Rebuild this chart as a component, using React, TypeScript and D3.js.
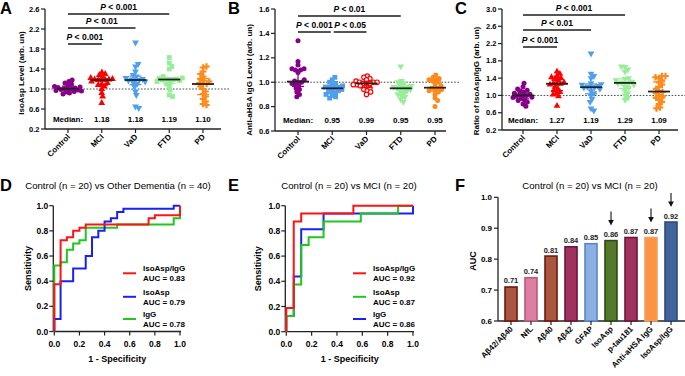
import React from "react";
import * as d3 from "d3";

const FONT = "'Liberation Sans', Arial, Helvetica, sans-serif";

// ---------- Data ----------
const categories = ["Control", "MCI", "VaD", "FTD", "PD"];

// Panel A: IsoAsp level
const aControl = [1.18, 1.15, 1.12, 1.1, 1.08, 1.05, 1.04, 1.03, 1.02, 1.01, 1.0, 1.0, 0.99, 0.98, 0.97, 0.96, 0.95, 0.94, 0.92, 0.9];
const aMCI = [1.33, 1.3, 1.28, 1.25, 1.22, 1.2, 1.19, 1.19, 1.18, 1.18, 1.18, 1.15, 1.12, 1.1, 1.08, 1.05, 1.0, 0.92, 0.85, 0.72];
const aVaD = [1.93, 1.5, 1.45, 1.35, 1.28, 1.25, 1.22, 1.2, 1.19, 1.18, 1.18, 1.17, 1.15, 1.12, 1.1, 1.05, 0.95, 0.88, 0.65, 0.62];
const aFTD = [1.63, 1.52, 1.45, 1.4, 1.25, 1.22, 1.21, 1.2, 1.2, 1.19, 1.19, 1.18, 1.17, 1.15, 1.12, 1.1, 1.05, 0.98, 0.88, 0.85];
const aPD = [1.45, 1.43, 1.35, 1.3, 1.25, 1.2, 1.17, 1.15, 1.12, 1.1, 1.1, 1.05, 1.0, 0.95, 0.9, 0.85, 0.8, 0.75, 0.7, 0.68];
const aMedianLabels = ["1.18", "1.18", "1.19", "1.10"];
const aTicks = [0.2, 0.6, 1.0, 1.4, 1.8, 2.2, 2.6];

// Panel B: Anti-aHSA IgG level
const bControl = [1.34, 1.17, 1.14, 1.11, 1.11, 1.1, 1.1, 1.08, 1.02, 1.01, 1.0, 1.0, 0.99, 0.98, 0.97, 0.95, 0.94, 0.92, 0.9, 0.88];
const bMCI = [1.04, 1.02, 1.0, 0.99, 0.98, 0.97, 0.96, 0.96, 0.95, 0.95, 0.95, 0.94, 0.93, 0.92, 0.92, 0.91, 0.9, 0.89, 0.88, 0.87];
const bVaD = [1.05, 1.04, 1.03, 1.02, 1.01, 1.0, 1.0, 1.0, 0.99, 0.99, 0.99, 0.98, 0.98, 0.97, 0.96, 0.95, 0.94, 0.93, 0.92, 0.9];
const bFTD = [1.13, 1.01, 1.0, 0.99, 0.98, 0.97, 0.96, 0.96, 0.95, 0.95, 0.95, 0.94, 0.93, 0.92, 0.91, 0.9, 0.89, 0.88, 0.86, 0.84];
const bPD = [1.06, 1.04, 1.03, 1.02, 1.02, 1.01, 1.0, 0.99, 0.97, 0.96, 0.95, 0.95, 0.94, 0.93, 0.93, 0.92, 0.9, 0.87, 0.85, 0.8];
const bMedianLabels = ["0.95", "0.99", "0.95", "0.95"];
const bTicks = [0.6, 0.8, 1.0, 1.2, 1.4, 1.6];

// Panel C: ratio IsoAsp/IgG
const cControl = [1.28, 1.2, 1.15, 1.12, 1.1, 1.08, 1.05, 1.03, 1.02, 1.0, 1.0, 0.98, 0.96, 0.95, 0.93, 0.9, 0.88, 0.85, 0.8, 0.75];
const cMCI = [1.55, 1.5, 1.45, 1.42, 1.4, 1.38, 1.35, 1.3, 1.28, 1.27, 1.27, 1.25, 1.2, 1.15, 1.12, 1.08, 1.05, 1.02, 0.98, 0.76];
const cVaD = [1.97, 1.5, 1.45, 1.4, 1.28, 1.26, 1.25, 1.22, 1.2, 1.19, 1.19, 1.18, 1.15, 1.1, 1.05, 1.0, 0.92, 0.85, 0.7, 0.65];
const cFTD = [1.67, 1.66, 1.6, 1.55, 1.4, 1.38, 1.35, 1.32, 1.3, 1.29, 1.29, 1.28, 1.25, 1.2, 1.18, 1.1, 1.05, 1.0, 0.95, 0.9];
const cPD = [1.45, 1.45, 1.42, 1.4, 1.35, 1.3, 1.25, 1.2, 1.15, 1.1, 1.08, 1.05, 1.0, 0.98, 0.95, 0.9, 0.85, 0.8, 0.72, 0.7];
const cMedianLabels = ["1.27", "1.19", "1.29", "1.09"];
const cTicks = [0.2, 0.6, 1.0, 1.4, 1.8, 2.2, 2.6, 3.0];

// Panel D: ROC control vs other dementia (fpr, tpr)
const dRatio: [number, number][] = [[0, 0], [0, 0.375], [0.05, 0.375], [0.05, 0.725], [0.1, 0.725], [0.1, 0.75], [0.15, 0.75], [0.15, 0.8], [0.2, 0.8], [0.2, 0.825], [0.25, 0.825], [0.25, 0.85], [0.75, 0.85], [0.75, 0.9], [0.8, 0.9], [0.8, 0.925], [1, 0.925], [1, 1]];
const dIsoAsp: [number, number][] = [[0, 0], [0, 0.1], [0.05, 0.1], [0.05, 0.4], [0.15, 0.4], [0.15, 0.5], [0.25, 0.5], [0.25, 0.6], [0.3, 0.6], [0.3, 0.75], [0.35, 0.75], [0.35, 0.8], [0.4, 0.8], [0.4, 0.875], [0.45, 0.875], [0.45, 0.9], [0.5, 0.9], [0.5, 0.95], [0.55, 0.95], [0.55, 0.975], [0.95, 0.975], [0.95, 1], [1, 1]];
const dIgG: [number, number][] = [[0, 0], [0, 0.525], [0.05, 0.525], [0.05, 0.55], [0.1, 0.55], [0.1, 0.65], [0.15, 0.65], [0.15, 0.7], [0.2, 0.7], [0.2, 0.725], [0.25, 0.725], [0.25, 0.825], [0.5, 0.825], [0.5, 0.85], [0.95, 0.85], [0.95, 0.9], [1, 0.9], [1, 1]];

// Panel E: ROC control vs MCI
const eRatio: [number, number][] = [[0, 0], [0, 0.1875], [0.0588, 0.1875], [0.0588, 0.875], [0.1176, 0.875], [0.1176, 0.9375], [0.5294, 0.9375], [0.5294, 1], [1, 1]];
const eIsoAsp: [number, number][] = [[0, 0], [0, 0.125], [0.0588, 0.125], [0.0588, 0.375], [0.1176, 0.375], [0.1176, 0.6875], [0.1765, 0.6875], [0.1765, 0.75], [0.2941, 0.75], [0.2941, 0.875], [0.5882, 0.875], [0.5882, 0.9375], [0.8824, 0.9375], [0.8824, 1], [1, 1]];
const eIgG: [number, number][] = [[0, 0], [0, 0.125], [0.0588, 0.125], [0.0588, 0.4375], [0.1176, 0.4375], [0.1176, 0.8125], [0.2941, 0.8125], [0.2941, 0.9375], [1, 0.9375], [1, 1]];
const rocTicks = [0, 0.2, 0.4, 0.6, 0.8, 1.0];

// Panel F: AUC bars
const fLabels = ["Aβ42/Aβ40", "NfL", "Aβ40", "Aβ42", "GFAP", "IsoAsp", "p-tau181", "Anti-aHSA IgG", "IsoAsp/IgG"];
const fValues = [0.71, 0.74, 0.81, 0.84, 0.85, 0.86, 0.87, 0.87, 0.92];
const fFills = ["#a9573f", "#dc7fa0", "#a9573f", "#a0335e", "#8cb0e2", "#56782c", "#a0335e", "#fb9443", "#41649c"];
const fStrokes = ["#6e1a0e", "#b85a7e", "#6e1a0e", "#6a1638", "#5b86c6", "#2f4a12", "#6a1638", "#f0a060", "#2b4a7b"];
const fArrow = [false, false, false, false, false, true, false, true, true];
const fTicks = [0.6, 0.7, 0.8, 0.9, 1.0];

// ---------- helpers ----------
const PURPLE = "#880088";
const RED = "#ff0000";
const BLUE = "#4f9fef";
const LGREEN = "#98ee98";
const ORANGE = "#ff8a1c";

function swarm(vals: number[], y: (v: number) => number, cx: number, d: number) {
  const med = d3.median(vals)!;
  const order = vals.map((v, i) => ({ v, i, py: y(v) })).sort((a, b) => Math.abs(a.v - med) - Math.abs(b.v - med));
  const placed: { py: number; dx: number }[] = [];
  const out: { x: number; y: number }[] = new Array(vals.length);
  for (const p of order) {
    const iv: [number, number][] = [];
    for (const q of placed) {
      const dy = Math.abs(q.py - p.py);
      if (dy < d) {
        const w = Math.sqrt(d * d - dy * dy);
        iv.push([q.dx - w, q.dx + w]);
      }
    }
    const cands = [0];
    iv.forEach(([a, b]) => cands.push(a, b));
    cands.sort((a, b) => Math.abs(a) - Math.abs(b) || b - a);
    let best = 0;
    for (const c of cands) {
      if (iv.every(([a, b]) => c <= a + 1e-6 || c >= b - 1e-6)) { best = c; break; }
    }
    placed.push({ py: p.py, dx: best });
    out[p.i] = { x: cx + best, y: p.py };
  }
  return out;
}

function Marker({ shape, color, x, y }: { shape: string; color: string; x: number; y: number }) {
  if (shape === "circle") return <circle cx={x} cy={y} r={2.5} fill={color} />;
  if (shape === "open") return <circle cx={x} cy={y} r={2.2} fill="#fff" stroke={color} strokeWidth={1.2} />;
  if (shape === "square") return <rect x={x - 2.4} y={y - 2.4} width={4.8} height={4.8} fill={color} />;
  const type = shape === "cross" ? d3.symbolCross : d3.symbolTriangle;
  const size = shape === "cross" ? 24 : 20;
  const p = d3.symbol().type(type).size(size)()!;
  const rot = shape === "triDown" ? 180 : 0;
  return <path d={p} transform={`translate(${x},${y}) rotate(${rot})`} fill={color} />;
}

type Group = { values: number[]; color: string; shape: string };
type Sig = { a: number; b: number; y: number; text: string; insetA?: number; insetB?: number };

function ScatterPanel(props: {
  letter: string; letterX: number; yTitle: string; yTitleX: number; yTitleY: number;
  axisX: number; yDom: [number, number]; yTop: number; yBot: number; ticks: number[];
  xRange: [number, number]; axisEnd: number; dotEnd: number; groups: Group[]; sig: Sig[];
  medianLabels: string[]; medianY: number;
}) {
  const p = props;
  const y = d3.scaleLinear().domain(p.yDom).range([p.yBot, p.yTop]);
  const x = d3.scalePoint<string>().domain(categories).range(p.xRange);
  const fmt = d3.format(".1f");
  return (
    <g fontFamily={FONT}>
      <text x={p.letterX} y={14} fontSize={16.5} fontWeight="bold">{p.letter}</text>
      <line x1={p.axisX} x2={p.dotEnd} y1={y(1)} y2={y(1)} stroke="#333" strokeWidth={0.9} strokeDasharray="1.6,1.6" />
      <line x1={p.axisX} x2={p.axisX} y1={p.yTop} y2={p.yBot} stroke="#222" strokeWidth={1.3} />
      {p.ticks.map((t) => (
        <g key={t}>
          <line x1={p.axisX - 4} x2={p.axisX} y1={y(t)} y2={y(t)} stroke="#222" strokeWidth={1.2} />
          <text x={p.axisX - 5.5} y={y(t) + 2.6} fontSize={7.5} fontWeight="bold" textAnchor="end">{fmt(t)}</text>
        </g>
      ))}
      <text transform={`translate(${p.yTitleX},${p.yTitleY}) rotate(-90)`} fontSize={8} fontWeight="bold" textAnchor="middle">{p.yTitle}</text>
      <line x1={p.axisX} x2={p.axisEnd} y1={p.yBot} y2={p.yBot} stroke="#222" strokeWidth={1.3} />
      {categories.map((c) => (
        <g key={c}>
          <line x1={x(c)!} x2={x(c)!} y1={p.yBot} y2={p.yBot + 4} stroke="#222" strokeWidth={1.2} />
          <text transform={`translate(${x(c)! + 2.5},${p.yBot + 8.5}) rotate(-45)`} fontSize={8} fontWeight="bold" textAnchor="end">{c}</text>
        </g>
      ))}
      {p.groups.map((g, gi) => {
        const pts = swarm(g.values, y, x(categories[gi])!, 3.6);
        return (
          <g key={gi}>
            {pts.map((pt, i) => <Marker key={i} shape={g.shape} color={g.color} x={pt.x} y={pt.y} />)}
          </g>
        );
      })}
      {p.groups.map((g, gi) => {
        const s = [...g.values].sort(d3.ascending);
        const med = d3.median(s)!;
        const q1 = d3.quantile(s, 0.25)!;
        const q3 = d3.quantile(s, 0.75)!;
        const cx = x(categories[gi])!;
        return (
          <g key={"m" + gi}>
            <line x1={cx} x2={cx} y1={y(q1)} y2={y(q3)} stroke={g.color} strokeWidth={1.3} />
            <line x1={cx - 6} x2={cx + 6} y1={y(q1)} y2={y(q1)} stroke={g.color} strokeWidth={1.3} />
            <line x1={cx - 6} x2={cx + 6} y1={y(q3)} y2={y(q3)} stroke={g.color} strokeWidth={1.3} />
            <line x1={cx - 11} x2={cx + 11} y1={y(med)} y2={y(med)} stroke="#222" strokeWidth={1.8} />
          </g>
        );
      })}
      {p.sig.map((s, i) => {
        const xa = x(categories[s.a])! + (s.insetA || 0);
        const xb = x(categories[s.b])! - (s.insetB || 0);
        return (
          <g key={"s" + i}>
            <line x1={xa} x2={xb} y1={s.y} y2={s.y} stroke="#555" strokeWidth={1.8} />
            <text x={(xa + xb) / 2} y={s.y - 4.2} fontSize={8.5} fontWeight="bold" textAnchor="middle">
              <tspan fontStyle="italic">P</tspan>{s.text}
            </text>
          </g>
        );
      })}
      <text x={x(categories[0])!} y={p.medianY} fontSize={8} fontWeight="bold" textAnchor="middle">Median:</text>
      {p.medianLabels.map((m, i) => (
        <text key={"ml" + i} x={x(categories[i + 1])!} y={p.medianY} fontSize={8} fontWeight="bold" textAnchor="middle">{m}</text>
      ))}
    </g>
  );
}

function RocPanel(props: {
  letter: string; letterX: number; title: string; titleX: number;
  xRange: [number, number]; yBot: number; yTop: number; yTitleX: number;
  curves: { pts: [number, number][]; color: string; name: string; auc: string }[];
  legendX: number;
}) {
  const p = props;
  const x = d3.scaleLinear().domain([0, 1]).range(p.xRange);
  const y = d3.scaleLinear().domain([0, 1]).range([p.yBot, p.yTop]);
  const line = d3.line<[number, number]>().x((d) => x(d[0])).y((d) => y(d[1]));
  const fmt = d3.format(".1f");
  const ax = p.xRange[0] - 1;
  const legendYs = [273.3, 296.8, 319];
  return (
    <g fontFamily={FONT}>
      <text x={p.letterX} y={190.5} fontSize={16.5} fontWeight="bold">{p.letter}</text>
      <text x={p.titleX} y={189} fontSize={9.6} textAnchor="middle">{p.title}</text>
      <line x1={ax} x2={ax} y1={p.yTop} y2={p.yBot} stroke="#222" strokeWidth={1.3} />
      <line x1={ax} x2={p.xRange[1] + 1} y1={p.yBot} y2={p.yBot} stroke="#222" strokeWidth={1.3} />
      {rocTicks.map((t) => (
        <g key={t}>
          <line x1={ax - 4} x2={ax} y1={y(t)} y2={y(t)} stroke="#222" strokeWidth={1.2} />
          <text x={ax - 5} y={y(t) + 3} fontSize={8.5} fontWeight="bold" textAnchor="end">{fmt(t)}</text>
          <line x1={x(t)} x2={x(t)} y1={p.yBot} y2={p.yBot + 4} stroke="#222" strokeWidth={1.2} />
          <text x={x(t)} y={p.yBot + 15} fontSize={8.5} fontWeight="bold" textAnchor="middle">{fmt(t)}</text>
        </g>
      ))}
      <text x={(p.xRange[0] + p.xRange[1]) / 2} y={362} fontSize={9} fontWeight="bold" textAnchor="middle">1 - Specificity</text>
      <text transform={`translate(${p.yTitleX},${(p.yTop + p.yBot) / 2}) rotate(-90)`} fontSize={9} fontWeight="bold" textAnchor="middle">Sensitivity</text>
      {[...p.curves].reverse().map((c, i) => (
        <path key={i} d={line(c.pts)!} fill="none" stroke={c.color} strokeWidth={2} strokeLinejoin="miter" />
      ))}
      {p.curves.map((c, i) => (
        <g key={"l" + i}>
          <line x1={p.legendX} x2={p.legendX + 13} y1={legendYs[i]} y2={legendYs[i]} stroke={c.color} strokeWidth={2} />
          <text x={p.legendX + 20} y={legendYs[i] - 2} fontSize={8} fontWeight="bold">{c.name}</text>
          <text x={p.legendX + 20} y={legendYs[i] + 8} fontSize={8} fontWeight="bold">{c.auc}</text>
        </g>
      ))}
    </g>
  );
}

function BarPanel() {
  const x = d3.scaleBand<string>().domain(fLabels).range([501, 681]).paddingInner(0.4).paddingOuter(0.2);
  const y = d3.scaleLinear().domain([0.6, 1.0]).range([321, 197.3]);
  const fmt1 = d3.format(".1f");
  const fmt2 = d3.format(".2f");
  const axX = 498;
  return (
    <g fontFamily={FONT}>
      <text x={455} y={190.5} fontSize={16.5} fontWeight="bold">F</text>
      <text x={590} y={188.5} fontSize={9.6} textAnchor="middle">Control (n = 20) vs MCI (n = 20)</text>
      <line x1={axX} x2={axX} y1={y(1.0)} y2={y(0.6)} stroke="#222" strokeWidth={1.3} />
      <line x1={axX} x2={685} y1={y(0.6)} y2={y(0.6)} stroke="#222" strokeWidth={1.3} />
      {fTicks.map((t) => (
        <g key={t}>
          <line x1={axX - 4} x2={axX} y1={y(t)} y2={y(t)} stroke="#222" strokeWidth={1.2} />
          <text x={axX - 6} y={y(t) + 2.8} fontSize={8} fontWeight="bold" textAnchor="end">{fmt1(t)}</text>
        </g>
      ))}
      <text transform={`translate(476,261) rotate(-90)`} fontSize={9} fontWeight="bold" textAnchor="middle">AUC</text>
      {fLabels.map((l, i) => {
        const bx = x(l)!;
        const bw = x.bandwidth();
        const cx = bx + bw / 2;
        const top = y(fValues[i]);
        return (
          <g key={l}>
            <rect x={bx} y={top} width={bw} height={y(0.6) - top} fill={fFills[i]} stroke={fStrokes[i]} strokeWidth={1.6} />
            <text x={cx} y={top - 3.5} fontSize={7.5} fontWeight="bold" textAnchor="middle" fill="#222">{fmt2(fValues[i])}</text>
            <line x1={cx} x2={cx} y1={y(0.6)} y2={y(0.6) + 4} stroke="#222" strokeWidth={1.2} />
            <text transform={`translate(${cx + 2.5},${y(0.6) + 8.5}) rotate(-45)`} fontSize={8} fontWeight="bold" textAnchor="end">{l}</text>
            {fArrow[i] && (
              <g>
                <line x1={cx} x2={cx} y1={top - 29} y2={top - 19} stroke="#111" strokeWidth={1.1} />
                <path d={`M${cx - 2.8},${top - 20.5} L${cx + 2.8},${top - 20.5} L${cx},${top - 15} Z`} fill="#111" />
              </g>
            )}
          </g>
        );
      })}
    </g>
  );
}

export default function App() {
  return (
    <div style={{ position: "absolute", left: 0, top: 0 }}>
      <svg width={685} height={376} viewBox="0 0 685 376" style={{ display: "block", background: "#fff" }}>
        <rect width={685} height={376} fill="#fff" />
        <ScatterPanel
          letter="A" letterX={0} yTitle="IsoAsp Level (arb. un)" yTitleX={23.5} yTitleY={73}
          axisX={45} yDom={[0.2, 2.6]} yTop={9} yBot={129} ticks={aTicks}
          xRange={[68, 203]} axisEnd={221} dotEnd={230}
          groups={[
            { values: aControl, color: PURPLE, shape: "circle" },
            { values: aMCI, color: RED, shape: "triUp" },
            { values: aVaD, color: BLUE, shape: "triDown" },
            { values: aFTD, color: LGREEN, shape: "square" },
            { values: aPD, color: ORANGE, shape: "cross" },
          ]}
          sig={[
            { a: 0, b: 3, y: 14, text: " < 0.001" },
            { a: 0, b: 2, y: 28, text: " < 0.01" },
            { a: 0, b: 1, y: 44, text: " < 0.001" },
          ]}
          medianLabels={aMedianLabels} medianY={122}
        />
        <ScatterPanel
          letter="B" letterX={228} yTitle="Anti-aHSA IgG Level (arb. un)" yTitleX={252} yTitleY={80}
          axisX={275} yDom={[0.6, 1.6]} yTop={9} yBot={131} ticks={bTicks}
          xRange={[298, 435]} axisEnd={446} dotEnd={459}
          groups={[
            { values: bControl, color: PURPLE, shape: "circle" },
            { values: bMCI, color: BLUE, shape: "square" },
            { values: bVaD, color: RED, shape: "open" },
            { values: bFTD, color: LGREEN, shape: "triDown" },
            { values: bPD, color: ORANGE, shape: "circle" },
          ]}
          sig={[
            { a: 0, b: 3, y: 16, text: " < 0.01" },
            { a: 0, b: 1, y: 32, text: " < 0.001", insetB: 1.5 },
            { a: 1, b: 2, y: 32, text: " < 0.05", insetA: 1.5 },
          ]}
          medianLabels={bMedianLabels} medianY={123}
        />
        <ScatterPanel
          letter="C" letterX={455} yTitle="Ratio of IsoAsp/IgG (arb. un)" yTitleX={479} yTitleY={81}
          axisX={502} yDom={[0.2, 3.0]} yTop={9} yBot={130} ticks={cTicks}
          xRange={[523, 659]} axisEnd={678} dotEnd={685}
          groups={[
            { values: cControl, color: PURPLE, shape: "circle" },
            { values: cMCI, color: RED, shape: "triUp" },
            { values: cVaD, color: BLUE, shape: "triDown" },
            { values: cFTD, color: LGREEN, shape: "triDown" },
            { values: cPD, color: ORANGE, shape: "cross" },
          ]}
          sig={[
            { a: 0, b: 3, y: 15, text: " < 0.001" },
            { a: 0, b: 2, y: 30, text: " < 0.01" },
            { a: 0, b: 1, y: 47, text: " < 0.001" },
          ]}
          medianLabels={cMedianLabels} medianY={122.5}
        />
        <RocPanel
          letter="D" letterX={0} title="Control (n = 20) vs Other Dementia (n = 40)" titleX={118}
          xRange={[54.3, 180]} yBot={331.5} yTop={205.7} yTitleX={30.5} legendX={123}
          curves={[
            { pts: dRatio, color: "#ff1414", name: "IsoAsp/IgG", auc: "AUC = 0.83" },
            { pts: dIsoAsp, color: "#1a22f0", name: "IsoAsp", auc: "AUC = 0.79" },
            { pts: dIgG, color: "#1ec81e", name: "IgG", auc: "AUC = 0.78" },
          ]}
        />
        <RocPanel
          letter="E" letterX={228} title="Control (n = 20) vs MCI (n = 20)" titleX={349}
          xRange={[286.3, 413]} yBot={331.7} yTop={205.7} yTitleX={261} legendX={353}
          curves={[
            { pts: eRatio, color: "#ff1414", name: "IsoAsp/IgG", auc: "AUC = 0.92" },
            { pts: eIsoAsp, color: "#1ec81e", name: "IsoAsp", auc: "AUC = 0.87" },
            { pts: eIgG, color: "#1a22f0", name: "IgG", auc: "AUC = 0.86" },
          ]}
        />
        <BarPanel />
      </svg>
    </div>
  );
}
